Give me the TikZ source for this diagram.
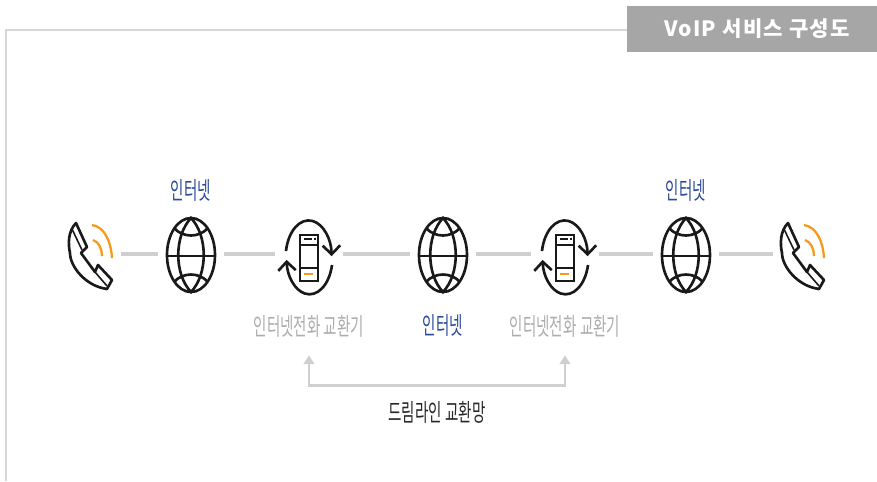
\documentclass[tikz,border=0pt]{standalone}
\usepackage{fontspec}
\usetikzlibrary{arrows.meta}
\newfontfamily\krfont[FakeStretch=0.6]{Noto Sans CJK KR}
\newfontfamily\headfont[LetterSpace=6]{Noto Sans CJK KR}
\definecolor{linegray}{HTML}{CFCFCF}
\definecolor{framegray}{HTML}{D6D6D6}
\definecolor{headgray}{HTML}{A6A6A6}
\definecolor{netblue}{HTML}{2B4A98}
\definecolor{callorange}{HTML}{F59A1B}
\tikzstyle{iconspot}=[minimum height=1cm,inner sep=0pt,outer sep=0pt]
\tikzstyle{phonespot}=[iconspot,minimum width=1.22cm]
\tikzstyle{globespot}=[iconspot,minimum width=1.32cm]
\tikzstyle{switchspot}=[iconspot,minimum width=1.36cm]
\tikzstyle{netlabel}=[text=netblue,font=\krfont\fontsize{13.8}{15}\selectfont,inner sep=0pt]
\tikzstyle{switchlabel}=[text=black!32,font=\krfont\fontsize{13.8}{15}\selectfont,inner sep=0pt,minimum height=1.16cm]
\tikzstyle{link}=[linegray,line width=1.9pt]
\tikzstyle{icon}=[line width=1.5pt,black!90]
\tikzset{
  phoneicon/.pic={
    \draw[icon,line join=round] (-15,-31) -- (-4,-7) -- (-10,-1) -- (4,18) -- (7,11) -- (21,26) -- (16,35)
      .. controls (-6,32) and (-21,12) .. (-21,-1) .. controls (-23,-10) and (-23,-23) .. cycle;
    \draw[icon,line width=.9pt] (-19,-25) -- (-9,-4);
    \draw[icon,line width=.9pt] (4,18) -- (16,32);
    \draw[callorange,line width=1.3pt] (1,-29) .. controls (14,-27) and (20,-12) .. (21,4);
    \draw[callorange,line width=1.3pt] (2,-14) .. controls (8,-12) and (11,-5) .. (11,2);
  },
  globeicon/.pic={
    \draw[icon] (0,1) ellipse (24 and 37);
    \draw[icon] (0,-36) .. controls (-17,-18) and (-17,20) .. (0,38) .. controls (17,20) and (17,-18) .. cycle;
    \draw[icon] (-24,2) -- (24,2);
    \draw[icon] (-17,-26) .. controls (-8,-16) and (8,-16) .. (17,-26);
    \draw[icon] (-17,28) .. controls (-8,18) and (8,18) .. (17,28);
  },
  switchicon/.pic={
    \draw[icon] (-9,-19) rectangle (9,27);
    \draw[icon] (-9,-9) -- (9,-9);
    \draw[icon] (-9,14) -- (9,14);
    \draw[icon,line width=1pt] (-5,-15) -- (3,-15);
    \draw[icon,line width=1pt] (5,-15) -- (7,-15);
    \draw[callorange,line width=1.3pt] (-5,20) -- (4,20);
    \draw[icon,-{Straight Barb[length=5pt,width=10pt]}] (-23,-3) arc[start angle=190,end angle=358,x radius=23,y radius=37];
    \draw[icon,-{Straight Barb[length=5pt,width=10pt]}] (23,11) arc[start angle=12,end angle=176,x radius=23,y radius=37];
  }
}

\begin{document}
\begin{tikzpicture}[x=0.02cm,y=-0.02cm]
\useasboundingbox (0,0) rectangle (877,481);
\node[fill=headgray,text=white,minimum width=5cm,minimum height=0.92cm,inner sep=0pt,outer sep=0pt,font=\headfont\fontsize{12}{14}\selectfont\bfseries] at (752, 29) (header) {\hspace*{0.2cm}VoIP 서비스 구성도};
\coordinate (frameend) at (6, 481);
\draw[framegray,line width=.6pt] (header.west) ++(0, 1) -| (frameend);
\node[phonespot] at (91, 254) (phoneA) {};
\node[globespot] at (191, 254) (globeA) {};
\node[switchspot] at (309, 254) (switchA) {};
\node[globespot] at (443, 254) (globeB) {};
\node[switchspot] at (565, 254) (switchB) {};
\node[globespot] at (686, 254) (globeC) {};
\node[phonespot] at (803, 254) (phoneB) {};
\pic at (phoneA) {phoneicon};
\pic at (globeA) {globeicon};
\pic at (switchA) {switchicon};
\pic at (globeB) {globeicon};
\pic at (switchB) {switchicon};
\pic at (globeC) {globeicon};
\pic at (phoneB) {phoneicon};
\draw[link] (phoneA) -- (globeA);
\draw[link] (globeA) -- (switchA);
\draw[link] (switchA) -- (globeB);
\draw[link] (globeB) -- (switchB);
\draw[link] (switchB) -- (globeC);
\draw[link] (globeC) -- (phoneB);
\node[netlabel] at (191, 190) (labelA) {인터넷};
\node[netlabel] at (686, 190) (labelC) {인터넷};
\node[netlabel] at (443, 325) (labelB) {인터넷};
\node[switchlabel] at (309, 326) (labelS) {인터넷전화 교환기};
\node[switchlabel] at (565, 326) (labelT) {인터넷전화 교환기};
\draw[link,line width=1.7pt,{Triangle[length=5pt,width=6pt]}-{Triangle[length=5pt,width=6pt]}] (labelS.south) -- ++(0, 30) -| (labelT.south);
\node[text=black!85,font=\krfont\fontsize{13.8}{15}\selectfont,inner sep=0pt] at (437, 412) (labelnet) {드림라인 교환망};
\end{tikzpicture}
\end{document}
